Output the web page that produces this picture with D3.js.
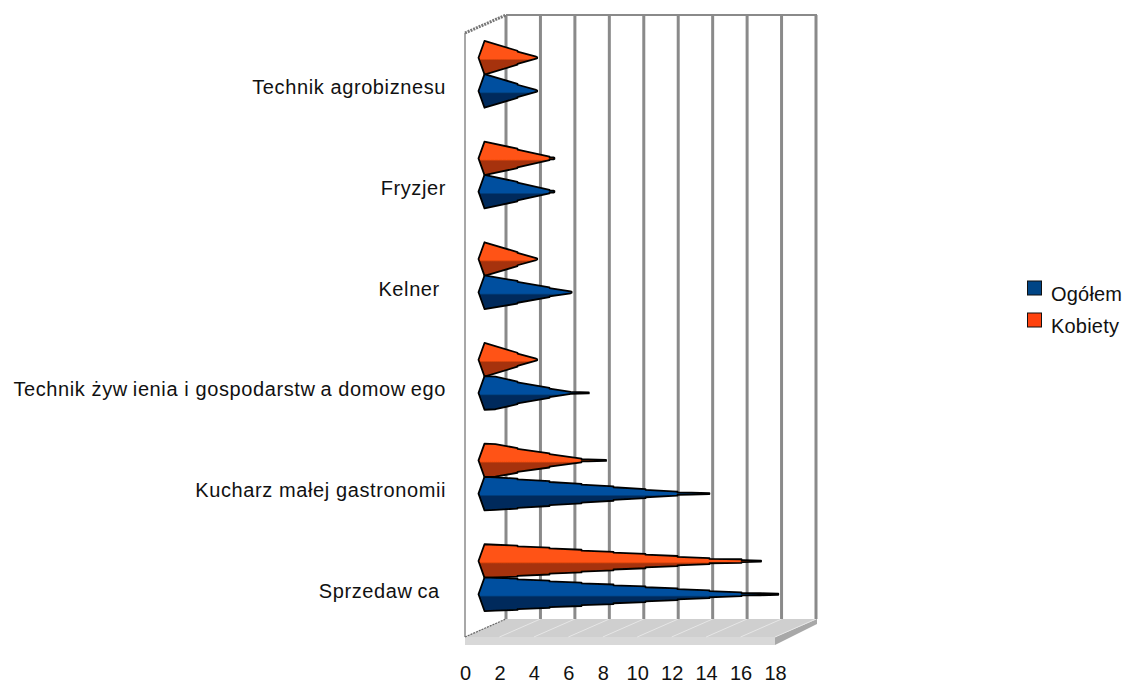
<!DOCTYPE html>
<html><head><meta charset="utf-8">
<script src="https://cdn.jsdelivr.net/npm/d3@7"></script>
<style>html,body{margin:0;background:#fff}svg{display:block}text{font-family:"Liberation Sans",Arial,sans-serif;fill:#111;white-space:pre}</style>
</head><body><svg id="c" width="1124" height="684"></svg>
<script>
const categories=["Technik agrobiznesu","Fryzjer","Kelner ","Technik żywienia i gospodarstwa domowego","Kucharz małej gastronomii","Sprzedawca "];
const seriesNames=["Kobiety","Ogółem"];
const kobiety=[3,4,3,3,7,16];
const ogolem=[3,4,5,6,13,17];
const xTicks=[0,2,4,6,8,10,12,14,16,18];
const colors={Ogółem:["#00509f","#002c5c","#004586"],Kobiety:["#ff5212","#a63208","#ff420e"]};

const svg=d3.select("#c");
const defs=svg.append("defs");
const soft=defs.append("filter").attr("id","soft").attr("x","-5%").attr("y","-5%").attr("width","110%").attr("height","110%");
soft.append("feGaussianBlur").attr("stdDeviation",0.6);
seriesNames.forEach((s,i)=>{
  const g=defs.append("linearGradient").attr("id","g"+i).attr("x1",0).attr("x2",0).attr("y1",0).attr("y2",1);
  [[0,colors[s][0]],[.53,colors[s][0]],[.58,colors[s][1]],[1,colors[s][1]]].forEach(d=>g.append("stop").attr("offset",d[0]).attr("stop-color",d[1]));
});
const X0=465,X1=775,Ytop=33,Ybot=637,DX=41,DY=-18;
const x=d3.scaleLinear().domain([0,18]).range([X0,X1]);
const y=d3.scaleBand().domain(categories).range([Ytop,Ybot]);
const plot=svg.append("g").attr("filter","url(#soft)");

// floor
const fl=plot.append("g");
fl.append("polygon").attr("fill","#cfcfcf").attr("points",[[X0,Ybot],[X0+DX,Ybot+DY],[X1+DX+1,Ybot+DY],[X1,Ybot]].join(" "));
fl.append("polygon").attr("fill","#d8d8d8").attr("points",[[X0,Ybot],[X1,Ybot],[X1,Ybot+8],[X0,Ybot+8]].join(" "));
fl.append("polygon").attr("fill","#a8a8a8").attr("points",[[X1,Ybot],[X1+DX+1,Ybot+DY],[X1+DX+1,Ybot+DY+5],[X1,Ybot+8]].join(" "));
fl.selectAll("line.d").data(xTicks).join("line").attr("class","d")
  .attr("x1",d=>x(d)).attr("x2",d=>x(d)+DX).attr("y1",Ybot).attr("y2",Ybot+DY).attr("stroke","#e6e6e6").attr("stroke-width",1);
// walls
plot.selectAll("line.g").data(xTicks).join("line").attr("class","g")
  .attr("x1",d=>x(d)+DX).attr("x2",d=>x(d)+DX).attr("y1",Ytop+DY).attr("y2",Ybot+DY).attr("stroke","#8a8a8a").attr("stroke-width",3);
plot.append("line").attr("x1",X0+DX).attr("x2",X1+DX+1).attr("y1",Ytop+DY).attr("y2",Ytop+DY).attr("stroke","#8a8a8a").attr("stroke-width",2);
plot.append("line").attr("x1",X0).attr("x2",X0).attr("y1",Ytop).attr("y2",Ybot).attr("stroke","#a8a8a8").attr("stroke-width",2);
plot.append("line").attr("x1",X0).attr("x2",X0+DX).attr("y1",Ytop).attr("y2",Ytop+DY).attr("stroke","#777").attr("stroke-width",3).attr("stroke-dasharray","2 1");
plot.append("line").attr("x1",X0).attr("x2",X0+DX).attr("y1",Ybot).attr("y2",Ybot+DY).attr("stroke","#666").attr("stroke-width",1.2).attr("stroke-dasharray","2 1");

// cones with small stair notches along their slanted sides
const HALF=16.8,STEP=32;
function cone(base,tip,c){
  const top=[],bot=[];
  const long=tip-base>100;
  const end=tip-(long?18:1);
  const h=px=>Math.max(1,HALF*(1-(px-base)/(end-base)));
  top.push([base-7,c],[base-1,c-HALF]);
  bot.push([base-7,c],[base-1,c+HALF]);
  if(long){top.push([base+10,c-HALF+.5]);bot.push([base+10,c+HALF-.5]);}
  for(let px=base+STEP;px<end;px+=STEP){
    const a=h(px);
    top.push([px,c-a-.8],[px,c-a]);
    bot.push([px,c+a+.8],[px,c+a]);
  }
  top.push([end,c-1],[tip,c-.5]);bot.push([end,c+1],[tip,c+.5]);
  return d3.line()(top.concat(bot.reverse()))+"Z";
}
const series=[{n:"Kobiety",v:kobiety,off:-16.6,i:0},{n:"Ogółem",v:ogolem,off:16.6,i:1}];
const mid=y.bandwidth()/2;
series.forEach(s=>{
  plot.append("g").selectAll("path").data(categories).join("path")
   .attr("d",(c,j)=>cone(x(0)+DX/2,x(s.v[j])+DX/2,y(c)+mid+DY/2+s.off))
   .attr("fill",`url(#g${s.i})`).attr("stroke","#000").attr("stroke-width",1.8).attr("stroke-linejoin","round");
});

// axes
const fs=20;
const ax=svg.append("g").attr("transform",`translate(0,${Ybot+26})`).call(d3.axisBottom(x).tickValues(xTicks).tickSize(0).tickFormat(d3.format("d")));
ax.select(".domain").remove();
ax.selectAll("text").style("font-size",fs+"px");
const ay=svg.append("g").attr("transform",`translate(${X0-1},0)`).call(d3.axisLeft(y).tickSize(0).tickPadding(18));
ay.select(".domain").remove();
ay.selectAll("text").style("font-size",fs+"px").style("letter-spacing","0.6px").attr("dy","0.55em")
  .each(function(t){
    const el=d3.select(this).text(null);
    let after=false;
    t.split(/(?<=w)/).forEach(part=>{
      const ts=el.append("tspan").text(part);
      if(after) ts.attr("dx",5);
      after=true;
    });
  });

// legend
const legend=svg.append("g");
const legendItems=["Ogółem","Kobiety"];
const ly=d3.scalePoint().domain(legendItems).range([288,320]);
legendItems.forEach(s=>{
  legend.append("rect").attr("x",1027.5).attr("y",ly(s)-7).attr("width",14).attr("height",14).attr("fill",colors[s][2]).attr("stroke","#111").attr("stroke-width",1);
  legend.append("text").attr("x",1051).attr("y",ly(s)+12.5).style("font-size","20px").style("letter-spacing","0.2px").text(s);
});
</script></body></html>
